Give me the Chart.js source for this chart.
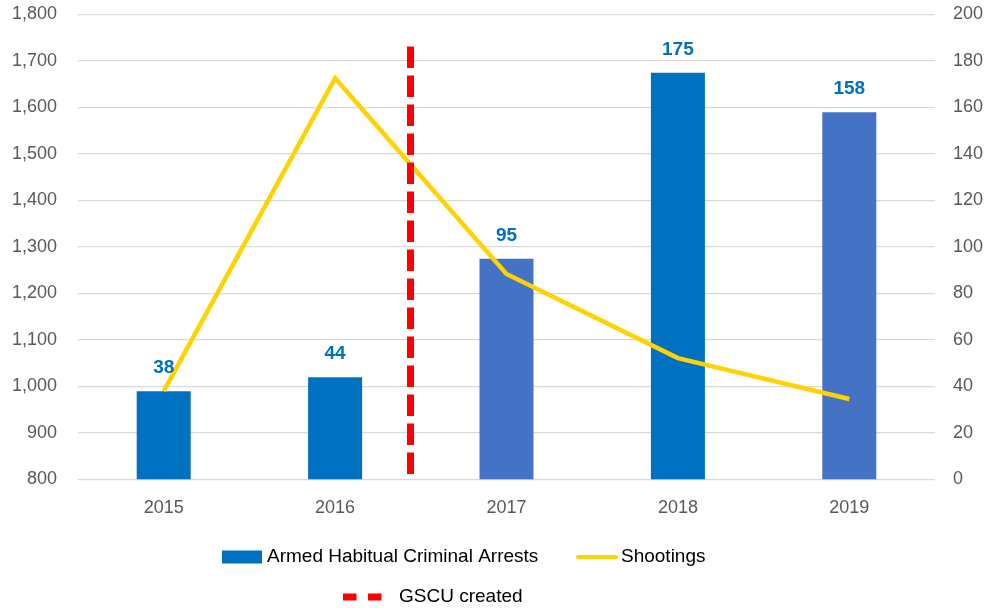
<!DOCTYPE html>
<html>
<head>
<meta charset="utf-8">
<script src="https://cdn.jsdelivr.net/npm/chart.js@4.4.1/dist/chart.umd.min.js"></script>
<style>
  html, body { margin: 0; padding: 0; background: #fff; }
  #wrap { width: 990px; height: 608px; position: relative; }
</style>
</head>
<body>
<div id="wrap"><canvas id="chart"></canvas></div>
<script>
const years = ["2015", "2016", "2017", "2018", "2019"];
const arrests = [38, 44, 95, 175, 158];
const shootings = [990, 1663, 1242, 1061, 973];
const arrestColors = ["#0070C0", "#0070C0", "#4472C4", "#0070C0", "#4472C4"];
// GSCU marker: position between 2016 and 2017, from top down to the axis
const gscuX = [1.44, 1.44];
const gscuY = [1731, 800];

const FONT = "'Liberation Sans', Arial, sans-serif";
const tickColor = "#595959";

// bold blue numbers over the bars
const barLabels = {
  id: "barLabels",
  afterDatasetsDraw(chart) {
    const ctx = chart.ctx;
    const meta = chart.getDatasetMeta(0);
    ctx.save();
    ctx.font = "bold 19px " + FONT;
    ctx.fillStyle = "#0070C0";
    ctx.textAlign = "center";
    ctx.textBaseline = "middle";
    meta.data.forEach((bar, i) => {
      ctx.fillText(arrests[i], bar.x, bar.y - 23);
    });
    ctx.restore();
  },
};

// legend laid out like the original (two rows)
const customLegend = {
  id: "customLegend",
  afterDraw(chart) {
    const ctx = chart.ctx;
    const ds = chart.data.datasets;
    ctx.save();
    ctx.font = "19px " + FONT;
    ctx.textBaseline = "middle";
    ctx.textAlign = "left";

    // row 1
    ctx.fillStyle = "#0070C0";
    ctx.fillRect(222, 550.5, 40, 13);
    ctx.fillStyle = "#000";
    ctx.fillText(ds[0].label, 267, 557);

    ctx.strokeStyle = ds[1].borderColor;
    ctx.lineWidth = 4;
    ctx.lineCap = "round";
    ctx.beginPath();
    ctx.moveTo(578, 557);
    ctx.lineTo(616, 557);
    ctx.stroke();
    ctx.fillText(ds[1].label, 621, 557);

    // row 2
    ctx.fillStyle = ds[2].borderColor;
    ctx.fillRect(343, 593.5, 13.5, 7);
    ctx.fillRect(368, 593.5, 13.5, 7);
    ctx.fillStyle = "#000";
    ctx.fillText(ds[2].label, 399, 597);
    ctx.restore();
  },
};

const noPad = (s) => { s.paddingTop = 0; s.paddingBottom = 0; };

new Chart(document.getElementById("chart"), {
  type: "bar",
  data: {
    labels: years,
    datasets: [
      {
        type: "bar",
        label: "Armed Habitual Criminal Arrests",
        data: arrests,
        backgroundColor: arrestColors,
        yAxisID: "y1",
        grouped: false,
        categoryPercentage: 1,
        barPercentage: 0.315,
        order: 2,
      },
      {
        type: "line",
        label: "Shootings",
        data: shootings,
        borderColor: "#FFD200",
        borderWidth: 4.5,
        pointRadius: 0,
        tension: 0,
        yAxisID: "y",
        order: 1,
      },
      {
        type: "line",
        label: "GSCU created",
        data: gscuX.map((x, i) => ({ x: x, y: gscuY[i] })),
        borderColor: "#FF0000",
        borderWidth: 7,
        borderDash: [21.5, 7.5],
        borderCapStyle: "butt",
        pointRadius: 0,
        xAxisID: "x2",
        yAxisID: "y",
        order: 0,
      },
    ],
  },
  options: {
    responsive: true,
    maintainAspectRatio: false,
    animation: false,
    layout: { padding: { top: 14.5, bottom: 78.5, left: 0, right: 0 } },
    plugins: {
      legend: { display: false },
      tooltip: { enabled: false },
    },
    scales: {
      x: {
        grid: { display: false, drawTicks: false },
        border: { display: false },
        ticks: { color: tickColor, font: { family: FONT, size: 18 }, padding: 18 },
        afterFit: (s) => { s.height = 50; },
      },
      x2: {
        type: "linear",
        display: false,
        offset: false,
        bounds: "data",
        min: -0.5,
        max: 4.5,
      },
      y: {
        position: "left",
        min: 800,
        max: 1800,
        ticks: {
          stepSize: 100,
          color: tickColor,
          font: { family: FONT, size: 18 },
          padding: 21,
          callback: (v) => v.toLocaleString("en-US"),
        },
        grid: { color: "#D9D9D9", lineWidth: 1.3, drawTicks: false },
        border: { display: false },
        afterFit: (s) => { s.width = 78; noPad(s); },
      },
      y1: {
        position: "right",
        min: 0,
        max: 200,
        ticks: {
          stepSize: 20,
          color: tickColor,
          font: { family: FONT, size: 18 },
          padding: 18,
        },
        grid: { display: false, drawTicks: false },
        border: { display: false },
        afterFit: (s) => { s.width = 55; noPad(s); },
      },
    },
  },
  plugins: [barLabels, customLegend],
});
</script>
</body>
</html>
